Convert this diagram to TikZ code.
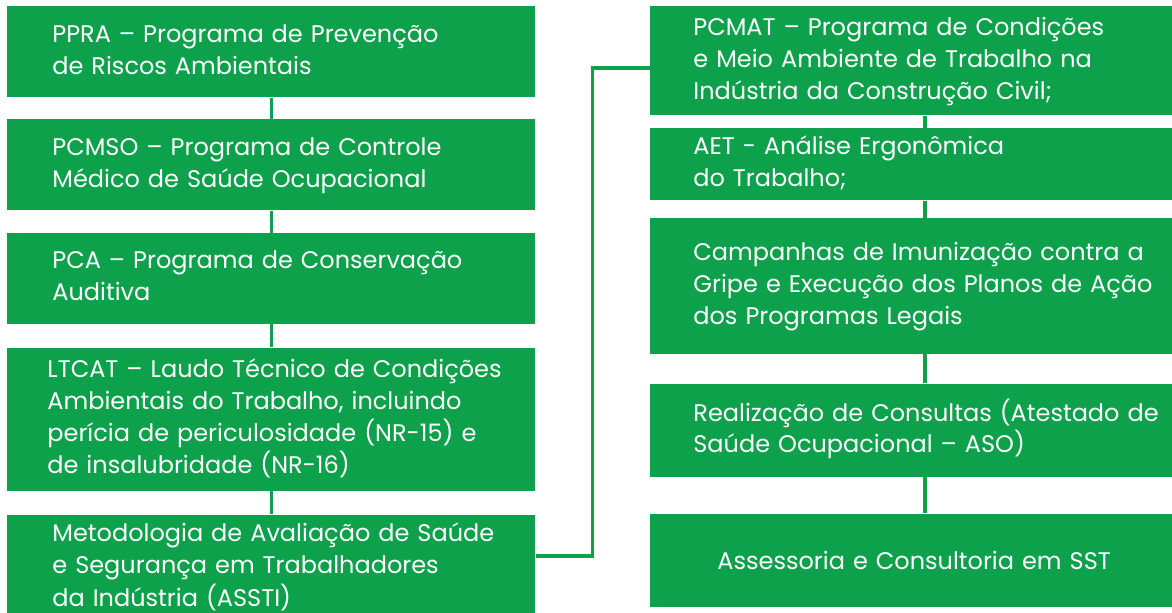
\documentclass[tikz,border=0pt]{standalone}
\usepackage{fontspec}
\setmainfont{Poppins}
\usetikzlibrary{positioning}
\definecolor{sstgreen}{RGB}{12,161,74}
\newcommand{\txtlines}[1]{\begin{tabular}{@{}l@{}}#1\end{tabular}}

\begin{document}
\begin{tikzpicture}[
  box/.style={fill=sstgreen, text=white, align=left, inner ysep=0pt,
    font=\fontsize{12}{16}\selectfont},
  lbox/.style={box, text width=219pt, inner xsep=22.5pt},
  rbox/.style={box, text width=231.5pt, inner xsep=21.5pt},
  link/.style={draw=sstgreen, line width=1.75pt},
  node distance=11pt]
  \useasboundingbox (0,0) rectangle (586pt,306pt);
  \node[lbox, minimum height=45.5pt, anchor=north west] (ppra) at (3.5pt,303pt) {\txtlines{PPRA – Programa de Prevenção\\de Riscos Ambientais}};
  \node[lbox, minimum height=45.5pt] (pcmso) [below = 10.5pt of ppra] {\txtlines{PCMSO – Programa de Controle\\Médico de Saúde Ocupacional}};
  \node[lbox, minimum height=45.5pt] (pca) [below = of pcmso] {\txtlines{PCA – Programa de Conservação\\Auditiva}};
  \node[lbox, minimum height=71.5pt, inner xsep=20pt, text width=224pt] (ltcat) [below = 11.5pt of pca] {\txtlines{LTCAT – Laudo Técnico de Condições\\Ambientais do Trabalho, incluindo\\perícia de periculosidade (NR-15) e\\de insalubridade (NR-16)}};
  \node[lbox, minimum height=53pt] (assti) [below = 11.5pt of ltcat] {\txtlines{Metodologia de Avaliação de Saúde\\e Segurança em Trabalhadores\\da Indústria (ASSTI)}};
  \node[rbox, minimum height=54.5pt, anchor=north west] (pcmat) at (325pt,303pt) {\txtlines{PCMAT – Programa de Condições\\e Meio Ambiente de Trabalho na\\Indústria da Construção Civil;}};
  \node[rbox, minimum height=36pt] (aet) [below = 6pt of pcmat] {\txtlines{AET - Análise Ergonômica\\do Trabalho;}};
  \node[rbox, minimum height=68pt] (campanhas) [below = 8.5pt of aet] {\txtlines{Campanhas de Imunização contra a\\Gripe e Execução dos Planos de Ação\\dos Programas Legais}};
  \node[rbox, minimum height=46.5pt, font=\fontsize{12}{14}\selectfont] (aso) [below = 14.5pt of campanhas] {\txtlines{Realização de Consultas (Atestado de\\Saúde Ocupacional – ASO)}};
  \node[rbox, minimum height=46.5pt, inner xsep=33.5pt, text width=207.5pt] (sst) [below = 18pt of aso] {Assessoria e Consultoria em SST};
  \draw[link] (ppra) -- (pcmso);
  \draw[link] (pcmso) -- (pca);
  \draw[link] (pca) -- (ltcat);
  \draw[link] (ltcat) -- (assti);
  \draw[link] (pcmat) -- (aet);
  \draw[link] (aet) -- (campanhas);
  \draw[link] (campanhas) -- (aso);
  \draw[link] (aso) -- (sst);
  \draw[link] ([yshift=5.75pt]assti.east) -- ++(28.25pt,0) |- ([yshift=-3.5pt]pcmat.west);
\end{tikzpicture}
\end{document}
